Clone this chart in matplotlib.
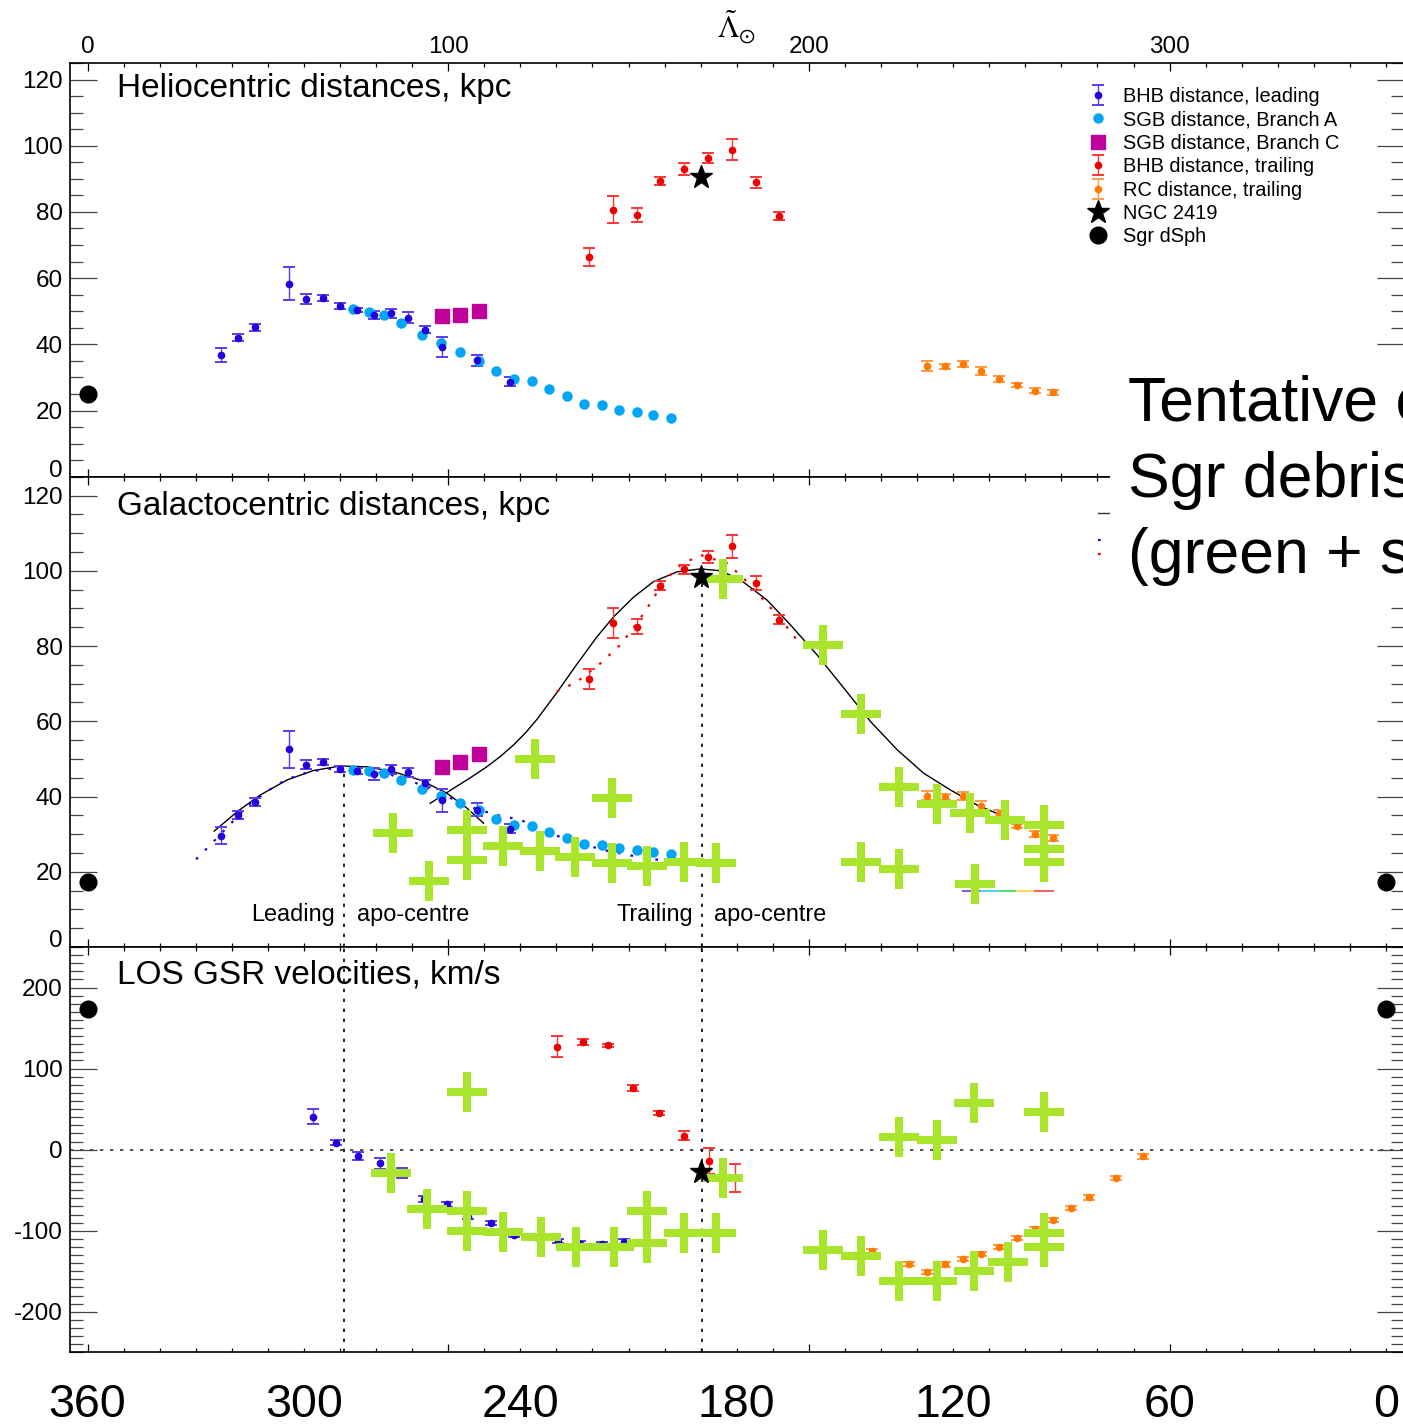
import matplotlib
matplotlib.use('Agg')
import matplotlib.pyplot as plt
from matplotlib.lines import Line2D
from matplotlib.patches import Rectangle
from matplotlib.ticker import MultipleLocator

plt.rcParams['font.family'] = ['Liberation Sans', 'DejaVu Sans']
plt.rcParams['mathtext.fontset'] = 'stix'
plt.rcParams['axes.unicode_minus'] = False

# ---- BHB stars, leading arm ----
lead_lam = [36.9, 41.7, 46.5, 55.9, 60.6, 65.3, 70.0, 74.8, 79.5, 84.2, 88.9, 93.6, 98.4, 108.0, 117.2]
lead_dhel = [36.8, 42.0, 45.1, 58.3, 53.7, 54.0, 51.5, 50.4, 48.8, 49.4, 48.1, 44.4, 39.1, 35.2, 28.7]
lead_dhel_err = [2.2, 1.1, 1.0, 5.0, 1.4, 0.8, 0.9, 0.7, 1.2, 1.4, 1.7, 1.0, 3.0, 1.7, 1.4]
lead_dgc = [29.6, 35.1, 38.5, 52.5, 48.5, 49.3, 47.3, 46.8, 46.0, 47.2, 46.4, 43.5, 39.0, 36.5, 31.4]
lead_dgc_err = [2.2, 1.1, 1.0, 5.0, 1.3, 0.8, 0.9, 0.7, 1.5, 1.3, 1.2, 0.9, 3.0, 1.8, 1.2]
lead_vlam = [62.6, 68.9, 74.9, 81.1, 87.2, 93.4, 99.6, 105.6, 111.8, 118.1, 124.3, 130.3, 136.6, 142.7, 148.8]
lead_vgsr = [40.7, 8.6, -7.8, -16.8, -29.2, -61.3, -67.5, -82.7, -90.9, -105.7, -108.0, -112.7, -116.0, -117.0, -113.5]
lead_vgsr_err = [9.2, 3.0, 5.3, 6.8, 6.0, 3.7, 3.0, 3.0, 2.5, 2.5, 3.0, 3.0, 3.0, 3.0, 3.0]

# ---- SGB distances, branches A and C ----
brA_lam = [73.7, 78.0, 82.3, 86.8, 92.6, 98.1, 103.3, 108.5, 113.3, 118.3,
           123.1, 128.0, 132.8, 137.7, 142.5, 147.3, 152.2, 156.9, 161.7]
brA_dhel = [50.7, 49.8, 48.9, 46.3, 42.9, 40.3, 37.6, 35.0, 31.9, 29.5,
            28.9, 26.6, 24.4, 22.1, 21.6, 20.3, 19.4, 18.6, 17.7]
brA_dgc = [47.0, 46.7, 46.3, 44.3, 41.9, 40.1, 38.2, 36.4, 33.9, 32.3,
           32.2, 30.6, 29.0, 27.3, 27.0, 26.2, 25.7, 25.3, 24.6]
brC_lam = [98.2, 103.4, 108.5]
brC_dhel = [48.6, 48.8, 50.2]
brC_dgc = [47.9, 49.1, 51.2]

# ---- BHB stars, trailing arm ----
trail_lam = [138.9, 145.6, 152.2, 158.7, 165.4, 171.9, 178.6, 185.2, 191.8]
trail_dhel = [66.4, 80.7, 79.1, 89.4, 93.1, 96.3, 98.8, 88.9, 78.9]
trail_dhel_err = [2.6, 4.0, 2.2, 1.3, 1.8, 1.6, 3.1, 1.8, 1.2]
trail_dgc = [71.2, 86.1, 85.1, 96.0, 100.4, 103.7, 106.5, 96.7, 87.0]
trail_dgc_err = [2.6, 4.0, 2.0, 1.2, 1.2, 1.6, 3.0, 1.8, 1.2]
trail_vlam = [130.1, 137.3, 144.3, 151.3, 158.3, 165.5, 172.4, 179.5]
trail_vgsr = [127.2, 132.6, 128.9, 76.5, 44.9, 17.3, -14.0, -35.0]
trail_vgsr_err = [13.0, 3.5, 2.0, 3.7, 2.7, 5.8, 16.0, 17.0]

# ---- red clump, trailing arm ----
rc_lam = [232.7, 237.7, 242.6, 247.7, 252.6, 257.6, 262.7, 267.7]
rc_dhel = [33.5, 33.4, 34.0, 31.9, 29.5, 27.6, 26.0, 25.5]
rc_dhel_err = [1.6, 0.8, 1.0, 1.2, 1.0, 0.6, 0.8, 0.8]
rc_dgc = [40.2, 39.8, 40.1, 37.5, 35.4, 32.1, 30.0, 29.1]
rc_dgc_err = [1.2, 0.8, 1.0, 1.2, 1.0, 0.6, 0.8, 0.8]
rc_vlam = [217.6, 227.7, 232.7, 237.7, 242.6, 247.7, 252.6, 257.6, 262.7, 267.7, 272.7, 277.7, 285.2, 292.7]
rc_vgsr = [-125.0, -141.0, -151.0, -141.5, -135.0, -129.0, -120.0, -109.0, -97.5, -87.0, -72.0, -59.0, -35.0, -8.0]
rc_vgsr_err = [2.5, 3.0, 3.0, 3.0, 2.5, 2.5, 2.5, 2.5, 2.5, 2.5, 2.5, 2.5, 2.5, 3.0]

# ---- NGC 2419 and Sgr dSph ----
ngc_lam = [170.1]
ngc_dhel = [90.7]
ngc_dgc = [98.3]
ngc_vgsr = [-27.9]
sgr_lam = [0.0, 360.0]
sgr_dhel = [25.0, 25.0]
sgr_dgc = [17.3, 17.3]
sgr_vgsr = [173.3, 173.3]

# ---- simulated debris (green crosses) ----
sim_lam_gc = [84.8, 94.7, 105.2, 105.2, 115.3, 124.1, 125.5, 135.2, 145.4, 145.4, 155.1, 165.3, 174.3,
              176.1, 203.8, 214.5, 214.5, 224.9, 224.9, 235.6, 244.6, 246.0, 254.5, 265.1, 265.1, 265.1]
sim_dgc = [30.2, 17.6, 31.1, 23.0, 26.8, 50.1, 25.5, 24.0, 39.5, 22.2, 21.6, 22.5, 22.2,
           97.8, 80.3, 61.8, 22.5, 42.4, 20.7, 37.9, 35.5, 16.7, 33.8, 32.3, 26.0, 22.7]
sim_lam_v = [84.1, 94.1, 105.2, 105.2, 105.2, 115.1, 125.7, 135.4, 145.9, 155.0, 155.0, 165.5, 174.3,
             176.1, 203.8, 214.5, 224.9, 224.9, 235.6, 235.6, 245.7, 245.9, 255.1, 265.1, 265.1, 265.1]
sim_vgsr = [-29.2, -72.8, 70.9, -75.7, -100.4, -101.2, -107.4, -120.5, -120.5, -75.7, -115.6, -103.2, -103.2,
            -35.3, -123.5, -130.9, -161.7, 16.0, -161.7, 12.0, 58.0, -149.8, -138.3, -103.2, -119.8, 46.5]

# ---- orbit model and fits (galactocentric distance) ----
orb_lead_lam = [35.1, 41.8, 47.9, 55.3, 62.6, 70.0, 77.4, 84.8, 92.2, 99.6, 105.2, 109.8]
orb_lead_r = [30.8, 36.2, 40.4, 44.4, 46.9, 48.1, 47.9, 46.6, 44.4, 40.9, 36.9, 32.9]
orb_trail_lam = [95.0, 101.5, 106.0, 110.7, 114.4, 118.1, 121.5, 124.6, 130.1, 135.7, 141.2, 145.9, 151.4,
                 156.9, 163.4, 169.9, 175.5, 181.0, 188.4, 194.9, 202.3, 209.7, 217.1, 224.5, 231.8,
                 239.3, 246.7, 253.1]
orb_trail_r = [38.2, 42.2, 44.9, 47.9, 50.6, 53.7, 57.0, 60.5, 67.6, 75.2, 82.4, 87.8, 93.0,
               97.1, 99.7, 100.5, 100.0, 97.6, 92.2, 85.6, 77.6, 68.8, 59.9, 52.4, 46.2,
               41.7, 37.7, 35.1]
fit_lead_lam = [30.1, 34.9, 39.1, 45.0, 52.5, 58.5, 65.0, 71.0, 77.4, 84.0, 90.0, 96.0, 102.0,
                108.0, 114.0, 120.0, 128.3, 136.0, 144.0, 152.3, 158.8]
fit_lead_r = [23.3, 28.0, 32.2, 38.0, 43.2, 45.8, 47.2, 47.6, 47.0, 45.8, 44.0, 41.6, 39.0,
              36.6, 35.0, 33.8, 30.2, 27.6, 25.6, 24.0, 23.1]
fit_trail_lam = [130.1, 135.7, 142.2, 147.7, 152.3, 156.0, 159.7, 164.4, 169.9, 177.3, 181.9, 187.0, 191.6, 196.7]
fit_trail_r = [67.9, 70.5, 75.4, 80.3, 86.0, 91.3, 97.1, 101.5, 104.2, 102.0, 98.0, 92.7, 87.8, 81.6]

# coloured bar under the trailing debris
bar_edges = [242.6, 247.6, 252.6, 257.6, 262.6, 267.6]
bar_level = 15.0
bar_colors = ['#8a5ee0', '#55d2f2', '#55e278', '#f8d866', '#f86464']

apo_lead = 71.2
apo_trail = 170.4

# colours
c_lead, ec_lead = '#2200dd', '#5a3cf0'
c_trail, ec_trail = '#ee0000', '#ff3535'
c_rc, ec_rc = '#ff7a00', '#ff9a45'
c_brA = '#00a6f5'
c_brC = '#bf0099'
c_sim = '#a8e52c'

lead_kw = dict(fmt='o', ms=4.5, color=c_lead, ecolor=ec_lead, elinewidth=1.0,
               capsize=4.6, capthick=1.4, zorder=3)
trail_kw = dict(fmt='o', ms=4.5, color=c_trail, ecolor=ec_trail, elinewidth=1.0,
                capsize=4.6, capthick=1.4, zorder=3)
rc_kw = dict(fmt='o', ms=4.5, color=c_rc, ecolor=ec_rc, elinewidth=1.0,
             capsize=4.6, capthick=1.4, zorder=3)
sim_kw = dict(ls='none', marker='+', ms=29, mew=5.8, color=c_sim, zorder=4)
ngc_kw = dict(ls='none', marker='*', ms=17, color='black', zorder=6)
sgr_kw = dict(ls='none', marker='o', ms=12, color='black', zorder=6)

fig = plt.figure(figsize=(14.03, 14.26), dpi=100)
left, width = 0.04954, 0.9512
ax_hel = fig.add_axes([left, 0.66571, width, 0.29011])
ax_gc = fig.add_axes([left, 0.33590, width, 0.32980])
ax_v = fig.add_axes([left, 0.05168, width, 0.28422])


def style_axis(ax, ymin, ymax, ymajor, yminor):
    ax.set_xlim(-5, 365)
    ax.set_ylim(ymin, ymax)
    ax.xaxis.set_major_locator(MultipleLocator(100))
    ax.xaxis.set_minor_locator(MultipleLocator(10))
    ax.yaxis.set_major_locator(MultipleLocator(ymajor))
    ax.yaxis.set_minor_locator(MultipleLocator(yminor))
    ax.tick_params(axis='x', which='both', direction='in', top=True, bottom=True,
                   labelbottom=False, color='black', width=0.9)
    ax.tick_params(axis='x', which='major', length=5.8)
    ax.tick_params(axis='x', which='minor', length=2.9)
    ax.tick_params(axis='y', which='both', direction='in', left=True, right=True,
                   color='#444444', width=0.9, labelsize=17.5, pad=5)
    ax.tick_params(axis='y', which='major', length=19.5)
    ax.tick_params(axis='y', which='minor', length=9.5)
    for sp in ax.spines.values():
        sp.set_linewidth(1.2)


style_axis(ax_hel, 0, 125, 20, 5)
style_axis(ax_gc, 0, 125, 20, 5)
style_axis(ax_v, -250, 250, 100, 10)

# ---------------- heliocentric distances ----------------
ax = ax_hel
h_lead = ax.errorbar(lead_lam, lead_dhel, yerr=lead_dhel_err, **lead_kw)
h_brA, = ax.plot(brA_lam, brA_dhel, ls='none', marker='o', ms=6.5, color=c_brA, zorder=3)
h_brC, = ax.plot(brC_lam, brC_dhel, ls='none', marker='s', ms=9.6, color=c_brC, zorder=3)
h_trail = ax.errorbar(trail_lam, trail_dhel, yerr=trail_dhel_err, **trail_kw)
h_rc = ax.errorbar(rc_lam, rc_dhel, yerr=rc_dhel_err, **rc_kw)
h_ngc, = ax.plot(ngc_lam, ngc_dhel, **ngc_kw)
h_sgr, = ax.plot(sgr_lam, sgr_dhel, **sgr_kw)
ax.text(0.0358, 0.917, 'Heliocentric distances, kpc', transform=ax.transAxes,
        fontsize=24, va='baseline', ha='left')
ax.tick_params(axis='x', labeltop=True, labelsize=17.5, pad=3.4)
ax.xaxis.set_label_position('top')
ax.set_xlabel(r'$\tilde{\Lambda}_{\odot}$', fontsize=22, labelpad=-1)

fig.legend([h_lead, h_brA, h_brC, h_trail, h_rc, h_ngc, h_sgr],
           ['BHB distance, leading', 'SGB distance, Branch A', 'SGB distance, Branch C',
            'BHB distance, trailing', 'RC distance, trailing', 'NGC 2419', 'Sgr dSph'],
           loc='upper left', bbox_to_anchor=(1084.7 / 1403, 1 - 87 / 1426),
           bbox_transform=fig.transFigure, frameon=False, fontsize=14.4, numpoints=1,
           handlelength=1.3, handletextpad=0.63, labelspacing=0.22,
           borderpad=0, borderaxespad=0)

# ---------------- galactocentric distances ----------------
ax = ax_gc
ax.plot(orb_lead_lam, orb_lead_r, color='black', lw=1.0, zorder=2)
ax.plot(orb_trail_lam, orb_trail_r, color='black', lw=1.0, zorder=2)
ax.plot(fit_lead_lam, fit_lead_r, color=c_lead, lw=1.6, ls=(0, (1.2, 4.5)), zorder=2)
ax.plot(fit_trail_lam, fit_trail_r, color=c_trail, lw=1.6, ls=(0, (1.2, 4.5)), zorder=2)
ax.vlines(apo_lead, 0, max(orb_lead_r), colors='black', lw=1.2, ls=(0, (2, 4)), zorder=1)
ax.vlines(apo_trail, 0, max(orb_trail_r), colors='black', lw=1.2, ls=(0, (2, 4)), zorder=1)
for i, col in enumerate(bar_colors):
    ax.plot(bar_edges[i:i + 2], [bar_level, bar_level], color=col, lw=1.5, zorder=2)
ax.errorbar(lead_lam, lead_dgc, yerr=lead_dgc_err, **lead_kw)
ax.plot(brA_lam, brA_dgc, ls='none', marker='o', ms=6.5, color=c_brA, zorder=3)
ax.plot(brC_lam, brC_dgc, ls='none', marker='s', ms=9.6, color=c_brC, zorder=3)
ax.errorbar(trail_lam, trail_dgc, yerr=trail_dgc_err, **trail_kw)
ax.errorbar(rc_lam, rc_dgc, yerr=rc_dgc_err, **rc_kw)
ax.plot(sim_lam_gc, sim_dgc, **sim_kw)
ax.plot(ngc_lam, ngc_dgc, **ngc_kw)
ax.plot(sgr_lam, sgr_dgc, **sgr_kw)
ax.text(0.0358, 0.9186, 'Galactocentric distances, kpc', transform=ax.transAxes,
        fontsize=24, va='baseline', ha='left')
for xpos, word in [(apo_lead, 'Leading'), (apo_trail, 'Trailing')]:
    ax.text(xpos - 2.6, 7.0, word, ha='right', va='baseline', fontsize=16.9)
    ax.text(xpos + 3.4, 7.0, 'apo-centre', ha='left', va='baseline', fontsize=16.9)

# line key for the model curves; only its left end peeks out from under the caption box
fig.legend([Line2D([], [], color='#333333', lw=1.0),
            Line2D([], [], color='none'),
            Line2D([], [], color=c_lead, lw=1.6, ls=(0, (1.2, 4.5))),
            Line2D([], [], color=c_trail, lw=1.6, ls=(0, (1.2, 4.5)))],
           [' ', ' ', ' ', ' '],
           loc='upper left', bbox_to_anchor=(1098 / 1403, 1 - 508 / 1426),
           bbox_transform=fig.transFigure, frameon=False, fontsize=9.5,
           handlelength=2.0, handletextpad=0.5, labelspacing=0.12,
           borderpad=0, borderaxespad=0)

# ---------------- line-of-sight velocities ----------------
ax = ax_v
ax.axhline(0, color='#333333', lw=1.2, ls=(0, (2, 4)), zorder=1)
ax.axvline(apo_lead, color='black', lw=1.2, ls=(0, (2, 4)), zorder=1)
ax.axvline(apo_trail, color='black', lw=1.2, ls=(0, (2, 4)), zorder=1)
ax.errorbar(lead_vlam, lead_vgsr, yerr=lead_vgsr_err, **lead_kw)
ax.errorbar(trail_vlam, trail_vgsr, yerr=trail_vgsr_err, **trail_kw)
ax.errorbar(rc_vlam, rc_vgsr, yerr=rc_vgsr_err, **rc_kw)
ax.plot(sim_lam_v, sim_vgsr, **sim_kw)
ax.plot(ngc_lam, ngc_vgsr, **ngc_kw)
ax.plot(sgr_lam, sgr_vgsr, **sgr_kw)
ax.text(0.0358, 0.9104, 'LOS GSR velocities, km/s', transform=ax.transAxes,
        fontsize=24, va='baseline', ha='left')

# longitude measured the other way round, labelled under the bottom panel
sec = ax.secondary_xaxis('bottom', functions=(lambda x: 360 - x, lambda x: 360 - x))
sec.set_xticks([360, 300, 240, 180, 120, 60, 0])
sec.tick_params(length=0, labelsize=33.5, pad=22)
sec.spines['bottom'].set_visible(False)

# zero labels sit on top of the bottom spine
for a in (ax_hel, ax_gc):
    a.set_yticks(range(0, 121, 20))
    a.get_yticklabels()[0].set_verticalalignment('baseline')

# caption box on the right
fig.add_artist(Rectangle((1110 / 1403, 1 - 600 / 1426), 0.22, 248 / 1426,
                         transform=fig.transFigure, facecolor='white',
                         edgecolor='none', zorder=10))
fig.text(1128 / 1403, 1 - 375 / 1426,
         'Tentative comparison with\nSgr debris model\n(green + symbols)',
         fontsize=45, va='top', ha='left', linespacing=1.37, zorder=11)

fig.savefig('out.png', dpi=100)
